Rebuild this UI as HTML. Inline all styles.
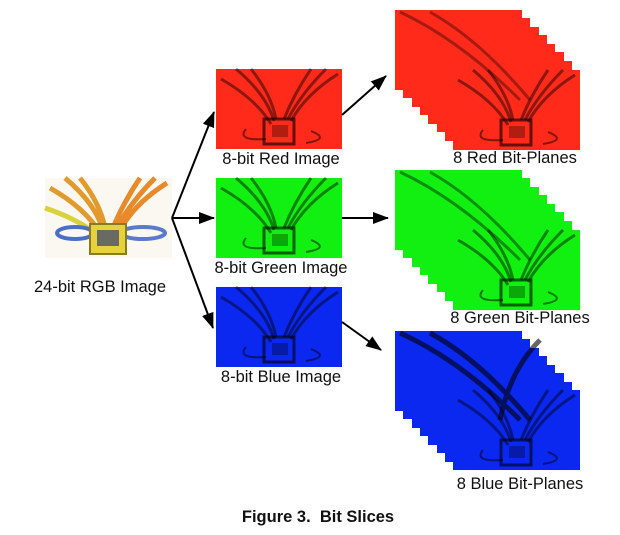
<!DOCTYPE html>
<html><head><style>
body{margin:0;background:#fff;}
svg{display:block;}
text{font-family:"Liberation Sans",sans-serif;font-size:16.5px;fill:#111;}
</style></head><body>
<svg width="620" height="535" viewBox="0 0 620 535" xmlns="http://www.w3.org/2000/svg">
<defs>
<marker id="ah" markerWidth="16" markerHeight="12" refX="15" refY="6" orient="auto" markerUnits="userSpaceOnUse" viewBox="0 0 16 12">
<path d="M0,0 L16,6 L0,12 z" fill="#000"/></marker>
<g id="tex">
<path d="M5,10 Q40,30 55,55 M20,0 Q50,25 58,52 M35,0 Q55,25 60,50 M122,5 Q90,25 75,52 M110,0 Q85,25 72,50 M95,0 Q78,25 68,50" stroke="#000" stroke-opacity="0.45" stroke-width="3" fill="none"/>
<path d="M30,60 Q20,72 50,70 M95,62 Q115,70 90,74" stroke="#000" stroke-opacity="0.5" stroke-width="2" fill="none"/>
<rect x="48" y="50" width="30" height="25" fill="none" stroke="#000" stroke-opacity="0.6" stroke-width="3"/>
<rect x="56" y="56" width="16" height="12" fill="#000" fill-opacity="0.3"/>
</g>
</defs>

<g transform="translate(45,178)">
<rect width="127" height="80" fill="#fbf8f2"/>
<path d="M5,10 Q40,30 55,55 M20,0 Q50,25 58,52 M35,0 Q55,25 60,50" stroke="#e39a2c" stroke-width="5" fill="none"/>
<path d="M122,5 Q90,25 75,52 M110,0 Q85,25 72,50 M95,0 Q78,25 68,50" stroke="#e8892a" stroke-width="5" fill="none"/>
<path d="M0,30 Q30,40 50,55" stroke="#d9d23a" stroke-width="5" fill="none"/>
<ellipse cx="30" cy="55" rx="18" ry="6" fill="none" stroke="#4a6fc8" stroke-width="4"/>
<ellipse cx="98" cy="55" rx="22" ry="6" fill="none" stroke="#5a7acc" stroke-width="4"/>
<rect x="45" y="46" width="36" height="30" fill="#e8d23c" stroke="#8a7a20" stroke-width="2"/>
<rect x="52" y="52" width="22" height="16" fill="#6b6a62"/>
</g>
<text x="100" y="292" text-anchor="middle">24-bit RGB Image</text>

<g transform="translate(216,69)"><rect width="126" height="80" fill="#ff2a1a"/><use href="#tex"/></g>
<text x="281" y="164" text-anchor="middle">8-bit Red Image</text>
<g transform="translate(216,178)"><rect width="126" height="80" fill="#11f011"/><use href="#tex"/></g>
<text x="281" y="273" text-anchor="middle">8-bit Green Image</text>
<g transform="translate(216,287)"><rect width="126" height="80" fill="#0a28f0"/><use href="#tex"/></g>
<text x="281" y="382" text-anchor="middle">8-bit Blue Image</text>

<g stroke="#000" stroke-width="2" fill="none" marker-end="url(#ah)">
<line x1="172" y1="218" x2="214" y2="112"/>
<line x1="172" y1="218" x2="214" y2="218"/>
<line x1="172" y1="218" x2="213" y2="328"/>
<line x1="342" y1="115" x2="386" y2="76"/>
<line x1="342" y1="218" x2="388" y2="218"/>
<line x1="342" y1="322" x2="381" y2="350"/>
</g>

<g>
<g transform="translate(395,10)"><rect width="127" height="80" fill="#ff2a1a"/></g>
<g transform="translate(403,18)"><rect width="127" height="80" fill="#ff2a1a"/></g>
<g transform="translate(412,27)"><rect width="127" height="80" fill="#ff2a1a"/></g>
<g transform="translate(420,35)"><rect width="127" height="80" fill="#ff2a1a"/></g>
<g transform="translate(428,44)"><rect width="127" height="80" fill="#ff2a1a"/></g>
<g transform="translate(437,52)"><rect width="127" height="80" fill="#ff2a1a"/></g>
<g transform="translate(445,61)"><rect width="127" height="80" fill="#ff2a1a"/></g>
<g transform="translate(453,70)"><rect width="127" height="80" fill="#ff2a1a"/><use href="#tex"/></g>
<path d="M400,12 Q460,40 520,100 M430,12 Q480,40 530,100" stroke="#000" stroke-opacity="0.35" stroke-width="3" fill="none"/>
</g>
<text x="515" y="163" text-anchor="middle">8 Red Bit-Planes</text>

<g>
<g transform="translate(395,170)"><rect width="127" height="80" fill="#11f011"/></g>
<g transform="translate(403,178)"><rect width="127" height="80" fill="#11f011"/></g>
<g transform="translate(412,187)"><rect width="127" height="80" fill="#11f011"/></g>
<g transform="translate(420,195)"><rect width="127" height="80" fill="#11f011"/></g>
<g transform="translate(428,204)"><rect width="127" height="80" fill="#11f011"/></g>
<g transform="translate(437,212)"><rect width="127" height="80" fill="#11f011"/></g>
<g transform="translate(445,221)"><rect width="127" height="80" fill="#11f011"/></g>
<g transform="translate(453,230)"><rect width="127" height="80" fill="#11f011"/><use href="#tex"/></g>
<path d="M400,172 Q460,200 520,260 M430,172 Q480,200 530,260" stroke="#000" stroke-opacity="0.4" stroke-width="3" fill="none"/>
</g>
<text x="520" y="323" text-anchor="middle">8 Green Bit-Planes</text>

<g>
<g transform="translate(395,331)"><rect width="127" height="80" fill="#0a28f0"/></g>
<g transform="translate(403,339)"><rect width="127" height="80" fill="#0a28f0"/></g>
<g transform="translate(412,348)"><rect width="127" height="80" fill="#0a28f0"/></g>
<g transform="translate(420,356)"><rect width="127" height="80" fill="#0a28f0"/></g>
<g transform="translate(428,365)"><rect width="127" height="80" fill="#0a28f0"/></g>
<g transform="translate(437,373)"><rect width="127" height="80" fill="#0a28f0"/></g>
<g transform="translate(445,382)"><rect width="127" height="80" fill="#0a28f0"/></g>
<g transform="translate(453,390)"><rect width="127" height="80" fill="#0a28f0"/><use href="#tex"/></g>
<path d="M400,333 Q460,360 520,420 M430,333 Q480,360 530,420 M540,340 Q510,370 500,420" stroke="#000" stroke-opacity="0.6" stroke-width="5" fill="none"/>
</g>
<text x="520" y="489" text-anchor="middle">8 Blue Bit-Planes</text>

<text x="318" y="522" text-anchor="middle" xml:space="preserve" style="font-weight:bold;font-size:16.5px">Figure 3.  Bit Slices</text>
</svg>
</body></html>
